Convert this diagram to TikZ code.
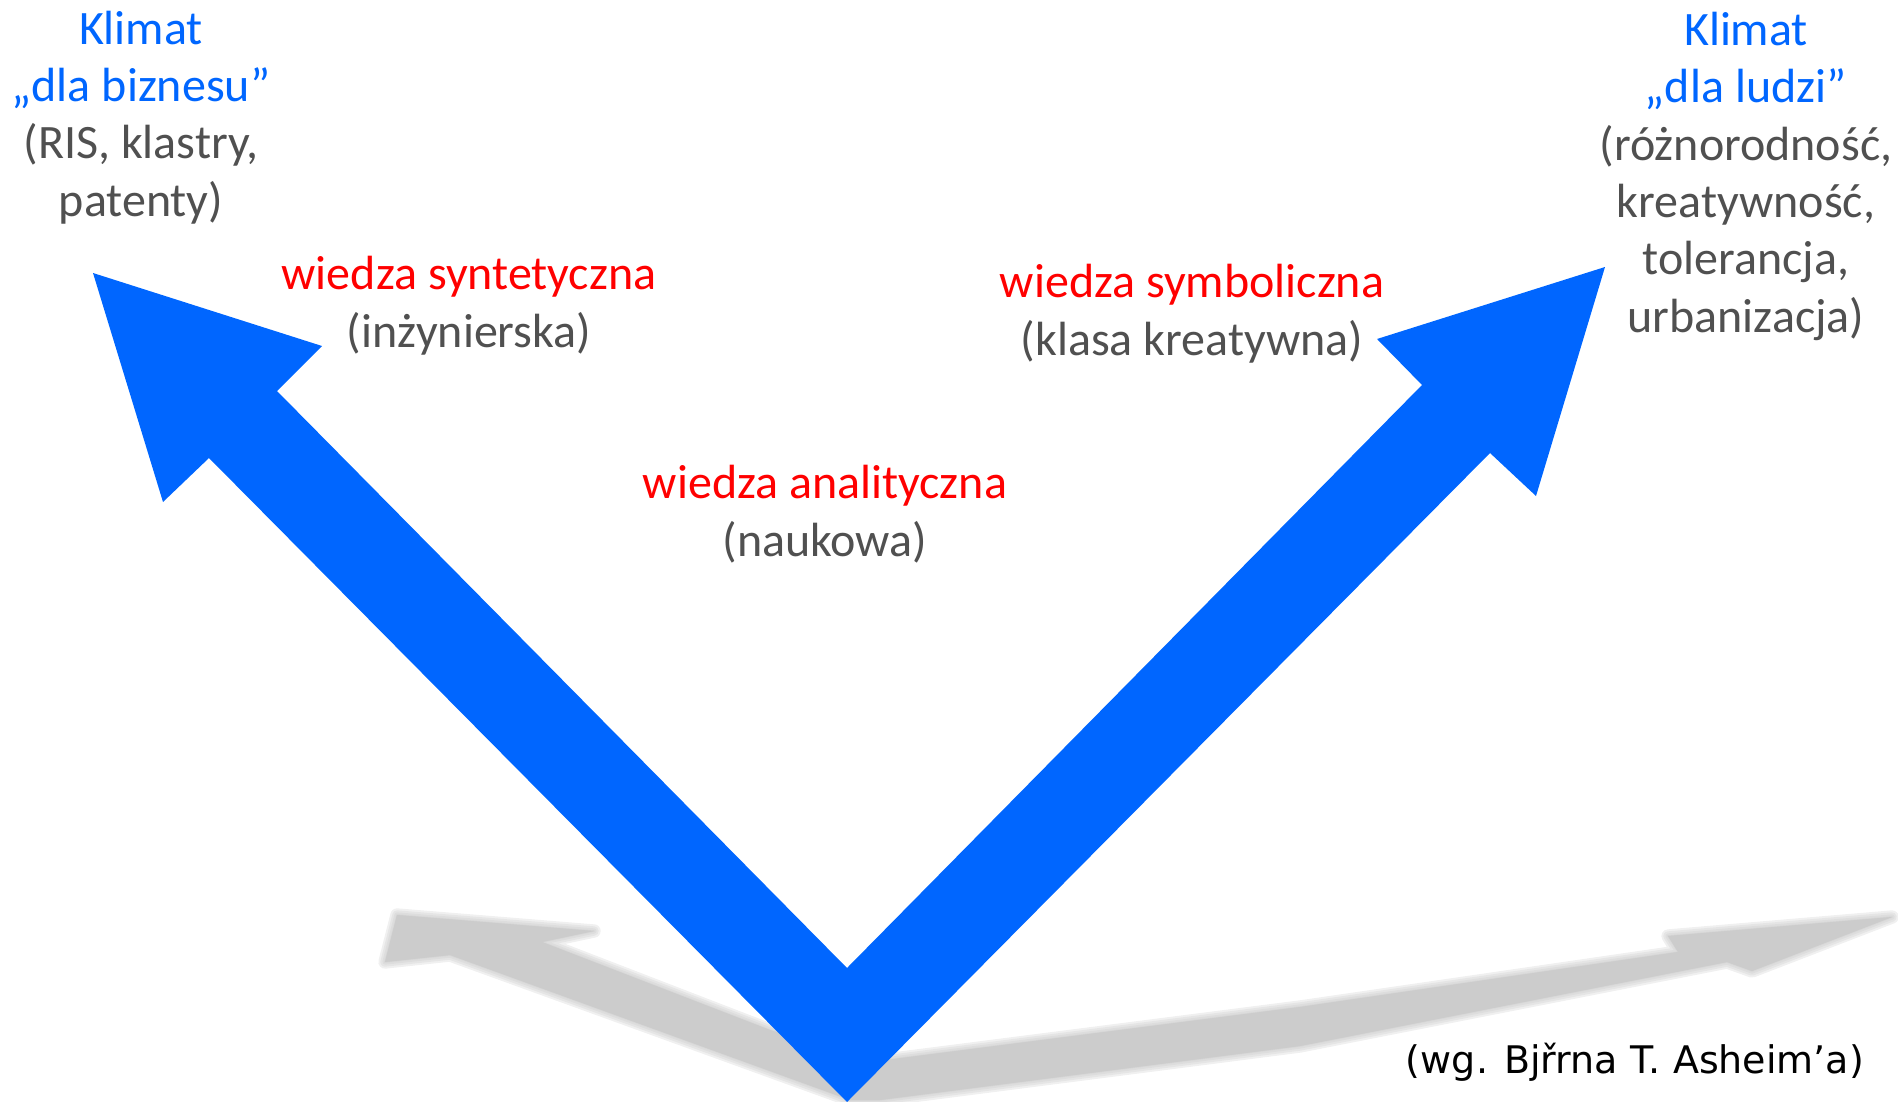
\documentclass[tikz,border=0pt]{standalone}
\usepackage{fontspec}
\setmainfont{Carlito}
\newfontfamily\notefont{DejaVu Sans}

\definecolor{arrowblue}{RGB}{0,102,255}
\definecolor{klimatblue}{RGB}{0,102,255}
\definecolor{wiedzared}{RGB}{255,0,0}
\definecolor{textgray}{RGB}{80,80,80}
\definecolor{shadowgray}{RGB}{204,204,204}

\tikzset{every picture/.style={line width=0.75pt}}
\tikzset{
  bigtext/.style={anchor=base, inner sep=0.75pt, align=center, text=textgray,
    font=\fontsize{36}{43}\selectfont},
  sourcetext/.style={anchor=base, inner sep=0.75pt, text=black,
    font=\notefont\fontsize{28.5}{34}\selectfont},
  shadowblur/.style={draw=shadowgray, fill=shadowgray, opacity=0.3, line join=round}
}

\begin{document}
\begin{tikzpicture}[x=0.75pt,y=0.75pt,yscale=-1,xscale=1]
\useasboundingbox (0,0) rectangle (1898,1102); %set diagram left start at 0, and has height of 1102

%Shape: Shadow (soft edge)
\foreach \w in {10,7,4,1.5} {
\draw [shadowblur, line width=\w]  (850,1100) -- (450,955) -- (385,962) -- (397,915) -- (594,931) -- (542,942) -- (770,1030) -- (870,1062) -- (1300,1007) -- (1678,952) -- (1668,936) -- (1892,917) -- (1752,971) -- (1727,962) -- (1300,1046) -- (880,1100) -- cycle ;
}
%Shape: Shadow
\fill [shadowgray]  (850,1100) -- (450,955) -- (385,962) -- (397,915) -- (594,931) -- (542,942) -- (770,1030) -- (870,1062) -- (1300,1007) -- (1678,952) -- (1668,936) -- (1892,917) -- (1752,971) -- (1727,962) -- (1300,1046) -- (880,1100) -- cycle ;

%Shape: Double Arrow (V)
\fill [arrowblue]  (93,273) -- (322,346) -- (277,391) -- (847,968) -- (1422,385) -- (1377,339) -- (1605,267) -- (1536,496) -- (1490,453) -- (847,1102) -- (209,458) -- (163,502) -- cycle ;

% Text Node
\draw (141,216) node [bigtext] (klimatbiz) {\textcolor{klimatblue}{Klimat}\\\textcolor{klimatblue}{„dla biznesu”}\\(RIS, klastry,\\patenty)};
% Text Node
\draw (1746,332) node [bigtext] (klimatppl) {\textcolor{klimatblue}{Klimat}\\\textcolor{klimatblue}{„dla ludzi”}\\(różnorodność,\\kreatywność,\\tolerancja,\\urbanizacja)};
% Text Node
\draw (469,347) node [bigtext] (syntetyczna) {\textcolor{wiedzared}{wiedza syntetyczna}\\(inżynierska)};
% Text Node
\draw (1192,355) node [bigtext] (symboliczna) {\textcolor{wiedzared}{wiedza symboliczna}\\(klasa kreatywna)};
% Text Node
\draw (825,556) node [bigtext] (analityczna) {\textcolor{wiedzared}{wiedza analityczna}\\(naukowa)};
% Text Node
\draw (1635,1073) node [sourcetext] (zrodlo) {(wg. Bjřrna T. Asheim’a)};

\end{tikzpicture}
\end{document}
